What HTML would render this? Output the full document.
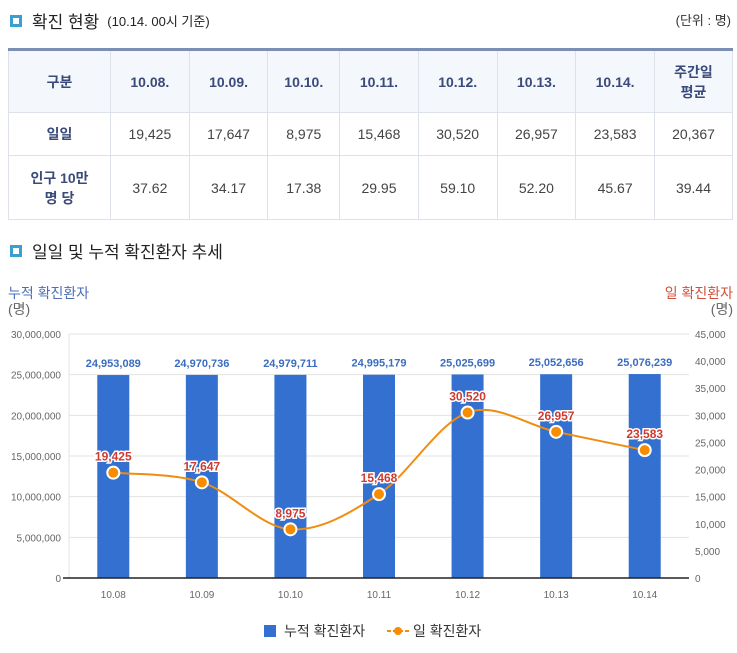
<!DOCTYPE html>
<html><head><meta charset="utf-8"><style>
body{margin:0;width:737px;height:653px;background:#fff;font-family:"Liberation Sans","Noto Sans CJK KR",sans-serif;position:relative;overflow:hidden;color:#333}
.h{position:absolute;font-size:17px;color:#222;display:flex;align-items:center}
.h .sq{width:6px;height:6px;border:3px solid #3aa0d0;background:#fff;margin-right:10px}
.h small{font-size:13px;margin-left:8px}
table{position:absolute;left:8px;top:48px;width:725px;border-collapse:collapse;border-top:3px solid #7b8fb3;font-size:14px;text-align:center}
td,th{border:1px solid #dde2ea;padding:0}
th{background:#f4f7fc;color:#3a4a7a;font-weight:bold;height:61px}
td{height:42px;color:#444}
td.l{color:#3a4a7a;font-weight:bold}
</style></head><body>
<div class="h" style="left:10px;top:8px"><span class="sq"></span>확진 현황<small>(10.14. 00시 기준)</small></div>
<div style="position:absolute;right:6px;top:10px;font-size:13px">(단위 : 명)</div>
<table>
<tr><th style="width:101px">구분</th><th>10.08.</th><th>10.09.</th><th>10.10.</th><th>10.11.</th><th>10.12.</th><th>10.13.</th><th>10.14.</th><th style="width:77px">주간일<br>평균</th></tr>
<tr><td class="l">일일</td><td>19,425</td><td>17,647</td><td>8,975</td><td>15,468</td><td>30,520</td><td>26,957</td><td>23,583</td><td>20,367</td></tr>
<tr><td class="l" style="height:63px">인구 10만<br>명 당</td><td>37.62</td><td>34.17</td><td>17.38</td><td>29.95</td><td>59.10</td><td>52.20</td><td>45.67</td><td>39.44</td></tr>
</table>
<div class="h" style="left:10px;top:238px"><span class="sq"></span>일일 및 누적 확진환자 추세</div>
<svg id="c" width="737" height="653" style="position:absolute;left:0;top:0"></svg>
<script>
const categories=["10.08","10.09","10.10","10.11","10.12","10.13","10.14"];
const cumulative=[24953089,24970736,24979711,24995179,25025699,25052656,25076239];
const daily=[19425,17647,8975,15468,30520,26957,23583];
const leftTicks=[0,5000000,10000000,15000000,20000000,25000000,30000000];
const rightTicks=[0,5000,10000,15000,20000,25000,30000,35000,40000,45000];
const L=69,R=689,T=334,B=578;
const xs=i=>L+(R-L)/categories.length*(i+0.5);
const yl=v=>B-v/30000000*(B-T);
const yr=v=>B-v/45000*(B-T);
const s=document.getElementById('c');const NS='http://www.w3.org/2000/svg';
function e(t,a,txt){const el=document.createElementNS(NS,t);for(const k in a)el.setAttribute(k,a[k]);if(txt!=null)el.textContent=txt;s.appendChild(el);return el;}
const f=v=>v.toLocaleString('en-US');
let t=e('text',{x:8,y:298,'font-size':14,fill:'#4a6fb8'},'누적 확진환자');
e('text',{x:8,y:314,'font-size':14,fill:'#666'},'(명)');
t=e('text',{x:733,y:298,'font-size':14,fill:'#d0503a','text-anchor':'end'},'일 확진환자');
e('text',{x:733,y:314,'font-size':14,fill:'#666','text-anchor':'end'},'(명)');
leftTicks.forEach(v=>{const g=e('line',{x1:L,x2:R,y1:yl(v),y2:yl(v),stroke:'#e3e3e3'});
const tx=e('text',{x:L-8,y:yl(v)+4,'font-size':10,fill:'#666','text-anchor':'end'},f(v));});
rightTicks.forEach(v=>{const tx=e('text',{x:R+6,y:yr(v)+4,'font-size':10,fill:'#666'},f(v));});
e('line',{x1:L,x2:L,y1:T,y2:B,stroke:'#e3e3e3'});
categories.forEach((c,i)=>{const x=xs(i);const b=e('rect',{x:x-16,y:yl(cumulative[i]),width:32,height:B-yl(cumulative[i]),fill:'#3370d0'});
const lb=e('text',{x:x,y:yl(cumulative[i])-8,'font-size':11,fill:'#3a6cc0','text-anchor':'middle','font-weight':'bold'},f(cumulative[i]));
const xl=e('text',{x:x,y:B+20,'font-size':10,fill:'#666','text-anchor':'middle'},c);});
e('line',{x1:L-6,x2:R,y1:B,y2:B,stroke:'#222','stroke-width':1.5});
const P=daily.map((v,i)=>[xs(i),yr(v)]);
let d='M'+P[0][0]+','+P[0][1];
for(let i=0;i<P.length-1;i++){const p0=P[Math.max(0,i-1)],p1=P[i],p2=P[i+1],p3=P[Math.min(P.length-1,i+2)];
d+=' C'+(p1[0]+(p2[0]-p0[0])/6)+','+(p1[1]+(p2[1]-p0[1])/6)+' '+(p2[0]-(p3[0]-p1[0])/6)+','+(p2[1]-(p3[1]-p1[1])/6)+' '+p2[0]+','+p2[1];}
const ln=e('path',{d:d,fill:'none',stroke:'#f08c10','stroke-width':2});
P.forEach((p,i)=>{const c=e('circle',{cx:p[0],cy:p[1],r:6,fill:'#f88c00',stroke:'#fff','stroke-width':2});
const lb=e('text',{x:p[0],y:p[1]-12,'font-size':12,fill:'#d03a30','text-anchor':'middle','font-weight':'bold',stroke:'#fff','stroke-width':3,'paint-order':'stroke'},f(daily[i]));});
let r=e('rect',{x:264,y:625,width:12,height:12,fill:'#3370d0'});
e('text',{x:284,y:636,'font-size':14,fill:'#333'},'누적 확진환자');
e('line',{x1:387,x2:409,y1:631,y2:631,stroke:'#f08c10','stroke-width':2,'stroke-dasharray':'4,2'});
r=e('circle',{cx:398,cy:631,r:4,fill:'#f88c00'});
e('text',{x:413,y:636,'font-size':14,fill:'#333'},'일 확진환자');
</script>
</body></html>
